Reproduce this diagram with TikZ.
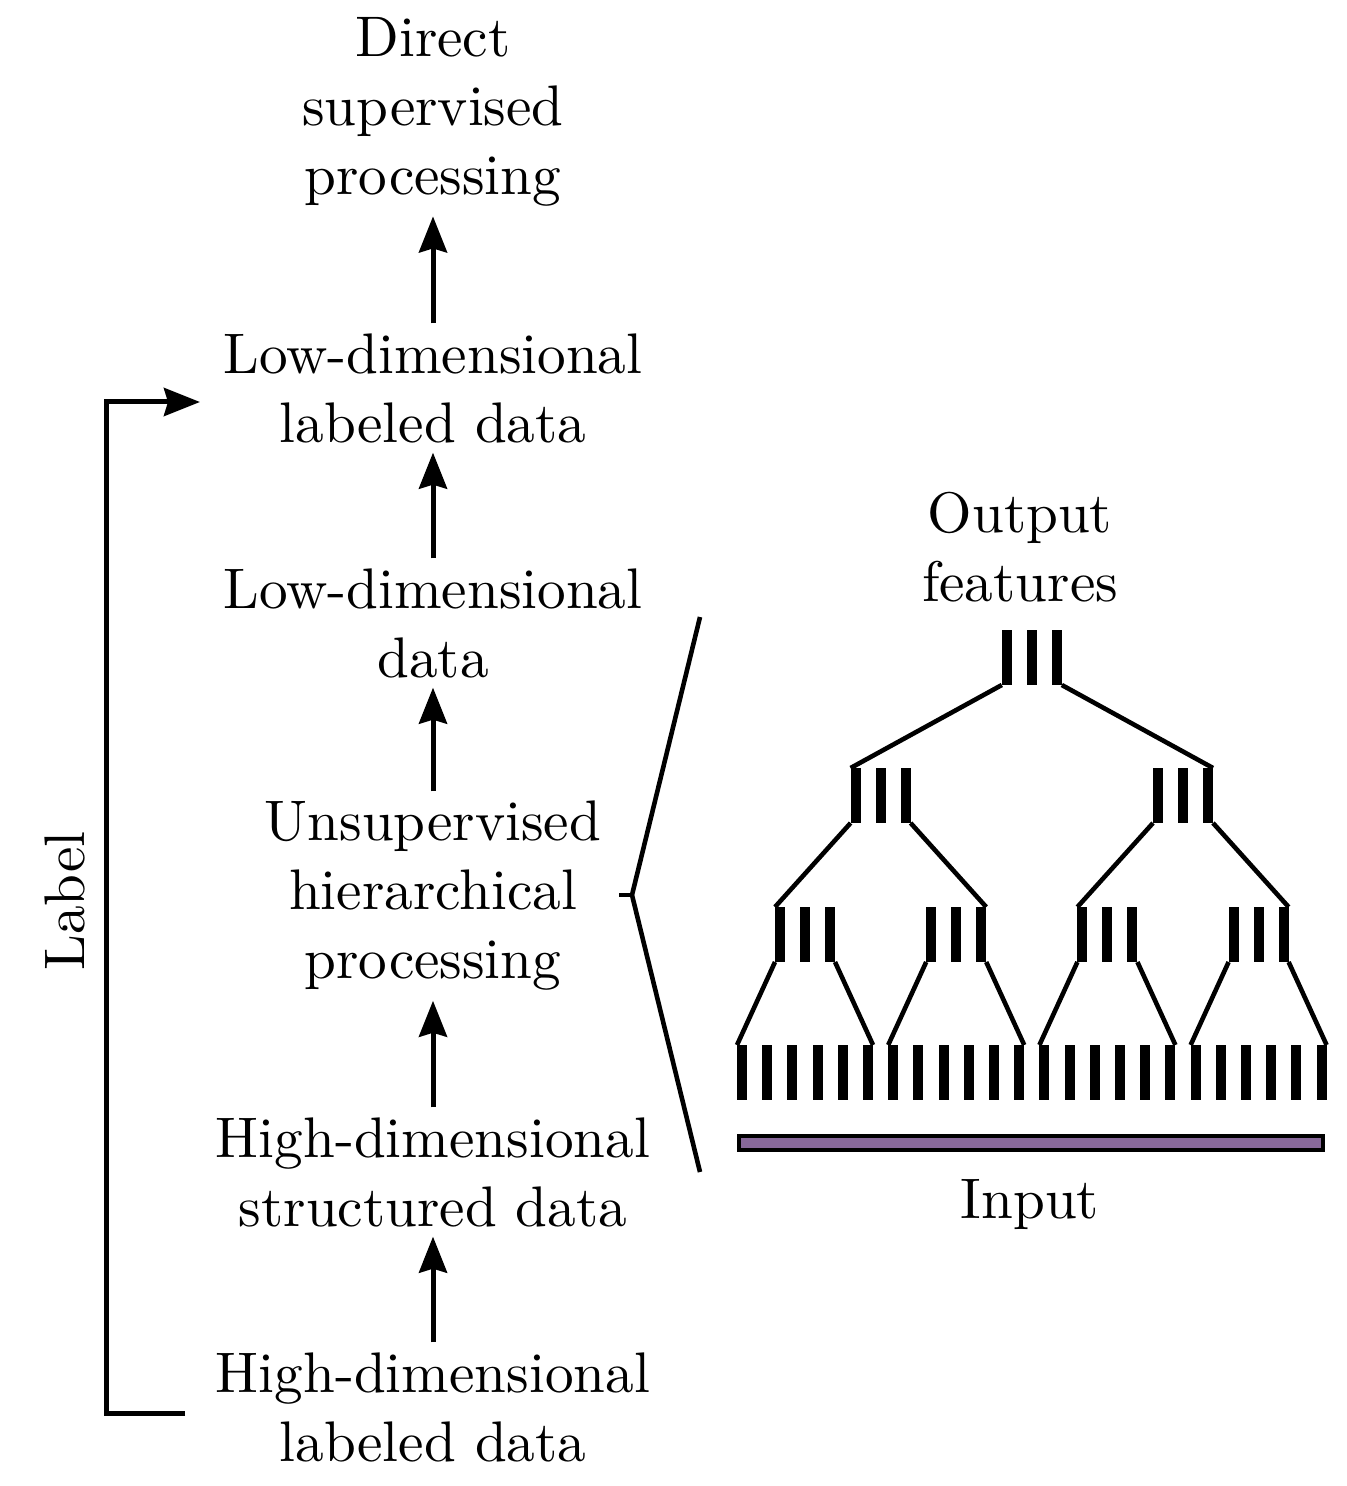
\documentclass[tikz,border=0pt]{standalone}
\usepackage{fontspec}
\setmainfont{lmroman10-regular}[Extension=.otf]
\usetikzlibrary{arrows.meta}
\begin{document}
\begin{tikzpicture}[x=0.5pt,y=-0.5pt,
  txt/.style={align=center,font=\fontsize{28.6}{34.5}\selectfont,inner sep=0pt,outer sep=5pt},
  arr/.style={line width=2.5pt,-{Stealth[length=18pt,width=14pt,inset=2pt]}},
  ln/.style={line width=2.3pt},
  barfill/.style={fill=black}]
\useasboundingbox (0,0) rectangle (1347,1486);
\definecolor{inputpurple}{RGB}{136,104,154}
% left column
\node[txt] (d) at (433,112) {Direct\\supervised\\processing};
\node[txt] (ll) at (433,388) {Low-dimensional\\labeled data};
\node[txt] (ld) at (433,623) {Low-dimensional\\data};
\node[txt] (uh) at (433,896) {Unsupervised\\hierarchical\\processing};
\node[txt] (hs) at (433,1172) {High-dimensional\\structured data};
\node[txt] (hl) at (433,1407) {High-dimensional\\labeled data};
\draw[arr] (ll) -- (d);
\draw[arr] (ld) -- (ll);
\draw[arr] (uh) -- (ld);
\draw[arr] (hs) -- (uh);
\draw[arr] (hl) -- (hs);
% label bracket
\node[txt,rotate=90] (lab) at (65,901) {Label};
\coordinate (bs) at (185,1413);
\coordinate (be) at (200,402);
\draw[arr,line join=miter] (bs) -- (106,1413) -- (106,402) -- (be);
% zoom bracket
\coordinate (zt) at (700,617);
\coordinate (zm) at (632,895);
\coordinate (zb) at (700,1172);
\draw[ln,line join=round] (zt) -- (zm) -- (zb);
\draw[ln] (619,895) -- (zm);
% tree
\node[txt] (out) at (1020,547) {Output\\features};
\node[txt] (in) at (1030,1205) {Input};
% level 4 bars
\foreach \i in {0,...,23}{
  \pgfmathsetmacro{\cx}{742+25.2*\i}
  \fill (\cx-5,1045) rectangle (\cx+5,1100);
}
% level 3 groups
\foreach \g in {0,...,3}{
  \pgfmathsetmacro{\c}{805+151.2*\g}
  \foreach \k in {-1,0,1}{\fill (\c+25*\k-5,907) rectangle (\c+25*\k+5,962);}
  \pgfmathsetmacro{\l}{742+151.2*\g-5}
  \pgfmathsetmacro{\r}{742+151.2*\g+126+5}
  \draw[ln] (\c-30,962) -- (\l,1045);
  \draw[ln] (\c+30,962) -- (\r,1045);
}
% level 2 groups
\foreach \g in {0,1}{
  \pgfmathsetmacro{\c}{880.6+302.4*\g}
  \foreach \k in {-1,0,1}{\fill (\c+25*\k-5,768) rectangle (\c+25*\k+5,823);}
  \draw[ln] (\c-30,823) -- (\c-75.6-30,907);
  \draw[ln] (\c+30,823) -- (\c+75.6+30,907);
}
% top group
\foreach \k in {-1,0,1}{\fill (1031.8+25*\k-5,630) rectangle (1031.8+25*\k+5,685);}
\draw[ln] (1031.8-30,685) -- (880.6-30,768);
\draw[ln] (1031.8+30,685) -- (1183+30,768);
% input bar
\draw[line width=2pt,fill=inputpurple] (739,1136) rectangle (1323,1150);
\end{tikzpicture}
\end{document}
